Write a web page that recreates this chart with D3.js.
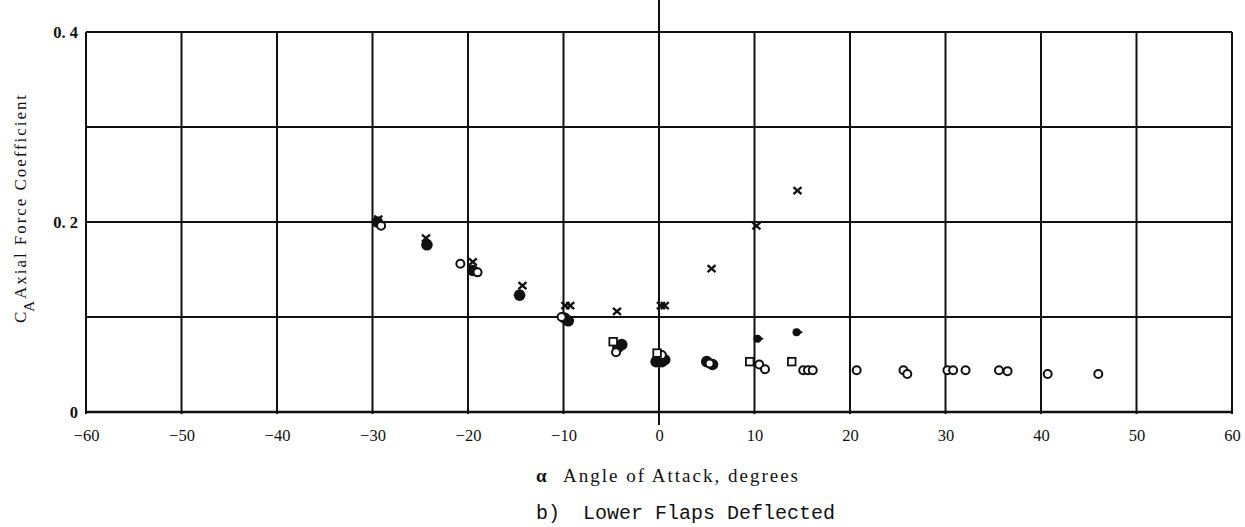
<!DOCTYPE html>
<html>
<head>
<meta charset="utf-8">
<script src="https://cdn.jsdelivr.net/npm/d3@7"></script>
<style>
  html, body { margin: 0; padding: 0; background: #fff; }
  svg { display: block; }
</style>
</head>
<body>
<svg id="chart" width="1245" height="527"></svg>
<script>
// Axial force coefficient vs angle of attack, lower flaps deflected.
const xTicks = [-60, -50, -40, -30, -20, -10, 0, 10, 20, 30, 40, 50, 60];
const yGrid = [0, 0.1, 0.2, 0.3, 0.4];
const yTickLabels = [0, 0.2, 0.4];

// Solid circles
const filledAlpha = [-29.5, -24.3, -19.5, -14.6, -9.9, -9.5, -4.3, -3.9, 0.0, 0.3, -0.3, 0.6, 5.0, 5.6];
const filledCA    = [0.200, 0.176, 0.149, 0.123, 0.099, 0.096, 0.068, 0.071, 0.058, 0.053, 0.053, 0.055, 0.053, 0.050];

// Crosses
const crossAlpha = [-29.4, -24.4, -19.5, -14.3, -9.8, -9.3, -4.4, 0.2, 0.6, 5.5, 10.2, 14.5];
const crossCA    = [0.203, 0.183, 0.158, 0.133, 0.112, 0.112, 0.106, 0.112, 0.112, 0.151, 0.196, 0.233];

// Open circles
const openAlpha = [-29.1, -20.8, -19.0, -10.2, -4.5, 0.3, 5.3, 10.5, 11.1, 15.1, 15.6, 16.1, 20.7, 25.6, 26.0, 30.2, 30.8, 32.1, 35.6, 36.5, 40.7, 46.0];
const openCA    = [0.196, 0.156, 0.147, 0.100, 0.063, 0.060, 0.051, 0.050, 0.045, 0.044, 0.044, 0.044, 0.044, 0.044, 0.040, 0.044, 0.044, 0.044, 0.044, 0.043, 0.040, 0.040];

// Open squares
const squareAlpha = [-4.8, -0.2, 9.5, 13.9];
const squareCA    = [0.074, 0.062, 0.053, 0.053];

// Flagged symbols
const flagAlpha = [10.3, 14.4];
const flagCA    = [0.077, 0.084];

const svg = d3.select("#chart");
const ink = "#111";

const x = d3.scaleLinear().domain([-60, 60]).range([86, 1232]);
const y = d3.scaleLinear().domain([0, 0.4]).range([412, 32]);

// Grid
const grid = svg.append("g").attr("stroke", ink).attr("fill", "none");
grid.selectAll("line.v")
  .data(xTicks)
  .join("line")
  .attr("class", "v")
  .attr("x1", d => x(d)).attr("x2", d => x(d))
  .attr("y1", d => d === 0 ? 0 : y(0.4))
  .attr("y2", d => d === 0 ? 425 : y(0) + 2)
  .attr("stroke-width", 2);
grid.selectAll("line.h")
  .data(yGrid)
  .join("line")
  .attr("class", "h")
  .attr("x1", x(-60)).attr("x2", x(60))
  .attr("y1", d => y(d)).attr("y2", d => y(d))
  .attr("stroke-width", d => d === 0 ? 2.6 : 2);

// X axis labels
const xAxis = d3.axisBottom(x).tickValues(xTicks).tickSize(0).tickPadding(0);
const gx = svg.append("g").attr("transform", `translate(0,${y(0)})`).call(xAxis);
gx.select(".domain").remove();
gx.selectAll("text")
  .attr("dy", null).attr("y", 29)
  .attr("font-family", "'Liberation Serif', serif")
  .attr("font-size", 16.5).attr("fill", ink);

// Y axis labels
const yAxis = d3.axisLeft(y).tickValues(yTickLabels).tickSize(0).tickPadding(8)
  .tickFormat(d => d === 0 ? "0" : d3.format(".1f")(d).replace(".", ". "));
const gy = svg.append("g").attr("transform", `translate(${x(-60)},0)`).call(yAxis);
gy.select(".domain").remove();
gy.selectAll("text")
  .attr("font-family", "'Liberation Serif', serif")
  .attr("font-weight", "bold")
  .attr("font-size", 16.5).attr("fill", ink);

// Markers
const marks = svg.append("g");
const pts = (a, b) => a.map((v, i) => ({a: v, c: b[i]}));

marks.selectAll("circle.filled")
  .data(pts(filledAlpha, filledCA))
  .join("circle").attr("class", "filled")
  .attr("cx", d => x(d.a)).attr("cy", d => y(d.c))
  .attr("r", 5.8).attr("fill", ink);

marks.selectAll("circle.open")
  .data(pts(openAlpha, openCA))
  .join("circle").attr("class", "open")
  .attr("cx", d => x(d.a)).attr("cy", d => y(d.c))
  .attr("r", 4).attr("fill", "#fff").attr("stroke", ink).attr("stroke-width", 2);

marks.selectAll("rect.sq")
  .data(pts(squareAlpha, squareCA))
  .join("rect").attr("class", "sq")
  .attr("x", d => x(d.a) - 3.8).attr("y", d => y(d.c) - 3.8)
  .attr("width", 7.6).attr("height", 7.6)
  .attr("fill", "#fff").attr("stroke", ink).attr("stroke-width", 1.8);

const flags = marks.selectAll("g.flag")
  .data(pts(flagAlpha, flagCA))
  .join("g").attr("class", "flag")
  .attr("transform", d => `translate(${x(d.a)},${y(d.c)})`);
flags.append("circle").attr("r", 4).attr("fill", ink);
flags.append("path").attr("d", "M0,-4 L6.5,0 L0,4 Z").attr("fill", ink);

marks.selectAll("path.cross")
  .data(pts(crossAlpha, crossCA))
  .join("path").attr("class", "cross")
  .attr("transform", d => `translate(${x(d.a)},${y(d.c)})`)
  .attr("d", "M-4,-3.5 L4,3.5 M-4,3.5 L4,-3.5")
  .attr("stroke", ink).attr("stroke-width", 2.4).attr("fill", "none");

// Y axis title with subscript
const yTitle = svg.append("text")
  .attr("transform", "translate(26,209) rotate(-90)")
  .attr("text-anchor", "middle")
  .attr("font-family", "'Liberation Serif', serif")
  .attr("font-size", 17).attr("fill", ink);
yTitle.append("tspan").text("C");
yTitle.append("tspan").attr("dy", 8).attr("font-size", 15).text("A");
yTitle.append("tspan").attr("dy", -8).attr("dx", 2).text("Axial Force Coefficient")
  .attr("textLength", 204).attr("lengthAdjust", "spacing");

// X axis title
svg.append("text")
  .attr("x", 536).attr("y", 482)
  .attr("font-family", "'Liberation Serif', serif")
  .attr("font-weight", "bold").attr("font-size", 19).attr("fill", ink)
  .text("α");
svg.append("text")
  .attr("x", 563).attr("y", 482)
  .attr("font-family", "'Liberation Serif', serif")
  .attr("font-size", 19).attr("fill", ink)
  .attr("textLength", 235).attr("lengthAdjust", "spacing")
  .text("Angle of Attack, degrees");

// Caption
svg.append("text")
  .attr("x", 536).attr("y", 519)
  .attr("font-family", "'Liberation Mono', monospace")
  .attr("font-size", 20).attr("fill", ink)
  .text("b)");
svg.append("text")
  .attr("x", 583).attr("y", 519)
  .attr("font-family", "'Liberation Mono', monospace")
  .attr("font-size", 20).attr("fill", ink)
  .text("Lower Flaps Deflected");
</script>
</body>
</html>
